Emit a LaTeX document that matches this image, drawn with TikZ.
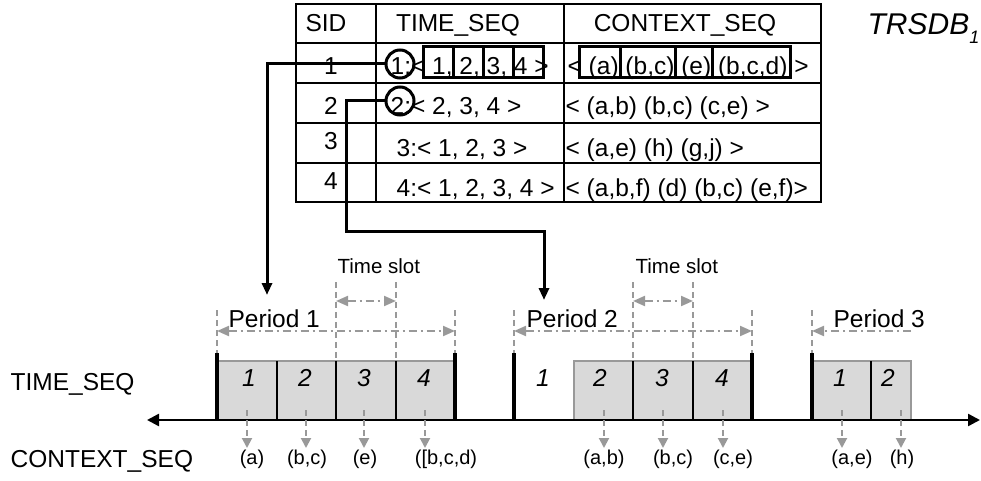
\documentclass[tikz,border=0pt]{standalone}
\usepackage{fontspec}
\setsansfont{Liberation Sans}
\usetikzlibrary{arrows.meta, calc}

\begin{document}
\begin{tikzpicture}[
  x=0.5pt, y=-0.5pt,
  font=\sffamily\fontsize{12.25}{14}\selectfont,
  line width=0.65pt,
  txt/.style={anchor=base, inner sep=0pt},
  lbl/.style={anchor=base, inner sep=0pt, font=\sffamily\fontsize{10}{12}\selectfont},
  conn/.style={line width=1.5pt, -{Triangle[length=6pt,width=5pt]}},
  gdash/.style={black!40, line width=1pt, dash pattern=on 3pt off 2pt},
  gdown/.style={gdash, -{Triangle[length=5pt,width=5pt]}},
  gspan/.style={black!40, line width=1pt, dash pattern=on 4pt off 2pt on 1pt off 2pt},
  pbar/.style={line width=2pt},
  slotbox/.style={black!40, line width=0.75pt}
]

\useasboundingbox (0,0) rectangle (981,481);

% ------------------- Table ------------------- %
\draw (296,4) rectangle (821,202);
\foreach \y in {43,83,123,163} {
  \draw (296,\y) -- (821,\y);
}
\foreach \x in {376,564} {
  \draw (\x,4) -- (\x,202);
}

% Header
\node[txt] (hsid) at (326,32) {SID};
\node[txt] (htime) at (458,32) {TIME\_SEQ};
\node[txt] (hctx) at (685,32) {CONTEXT\_SEQ};

% SID column
\foreach \i/\yb in {1/75,2/115,3/150,4/190} {
  \node[txt] (sid\i) at (331,\yb) {\i};
}

% TIME_SEQ and CONTEXT_SEQ columns
\node[txt, anchor=base west] (t1) at (390,75) {1:< 1, 2, 3, 4 >};
\node[txt, anchor=base west] (t2) at (390,115) {2:< 2, 3, 4 >};
\node[txt, anchor=base west] (t3) at (396,157) {3:< 1, 2, 3 >};
\node[txt, anchor=base west] (t4) at (396,197) {4:< 1, 2, 3, 4 >};
\node[txt, anchor=base west] (x1) at (567,75) {< (a) (b,c) (e) (b,c,d) >};
\node[txt, anchor=base west] (x2) at (565,115) {< (a,b) (b,c) (c,e) >};
\node[txt, anchor=base west] (x3) at (565,157) {< (a,e) (h) (g,j) >};
\node[txt, anchor=base west] (x4) at (565,197) {< (a,b,f) (d) (b,c) (e,f)>};

% Boxes round the items of sequence 1
\foreach \a/\b in {423/453,453/483,483/513,513/543} {
  \draw[line width=1.5pt] (\a,47) rectangle (\b,78);
}
\foreach \a/\b in {579/620,620/675,675/712,712/790} {
  \draw[line width=1.5pt] (\a,47) rectangle (\b,78);
}

% Circles round the SIDs
\node[circle, draw, line width=1.5pt, minimum size=14pt, inner sep=0pt] (c1) at (400,64) {};
\node[circle, draw, line width=1.5pt, minimum size=14pt, inner sep=0pt] (c2) at (400,101) {};

\node[txt, anchor=base west] (db) at (867,35)
  {\fontsize{15}{18}\selectfont\itshape TRSDB\raisebox{-0.3em}{\fontsize{9}{9}\selectfont 1}};

% ------------------- Time line ------------------- %
\node[txt, anchor=base west] (ltime) at (10,390) {TIME\_SEQ};
\node[txt, anchor=base west] (lctx) at (10,467) {CONTEXT\_SEQ};

% Period 1
\fill[black!15] (217,361) rectangle (455,420);
\draw[slotbox] (217,420) -- (217,361) -- (455,361) -- (455,420);
\foreach \x in {277,336,396} {
  \draw (\x,361) -- (\x,420);
}
\foreach \n/\x in {1/249,2/305,3/364,4/424} {
  \node[txt] (pa\n) at (\x,386) {\itshape\n};
}

% Period 2
\fill[black!15] (574,361) rectangle (752,420);
\draw[slotbox] (574,420) -- (574,361) -- (752,361) -- (752,420);
\foreach \x in {633,693} {
  \draw (\x,361) -- (\x,420);
}
\foreach \n/\x in {1/543,2/600,3/662,4/722} {
  \node[txt] (pb\n) at (\x,386) {\itshape\n};
}

% Period 3
\fill[black!15] (812,361) rectangle (911,420);
\draw[slotbox] (812,361) -- (911,361) -- (911,420);
\draw (871,361) -- (871,420);
\foreach \n/\x in {1/840,2/888} {
  \node[txt] (pc\n) at (\x,386) {\itshape\n};
}

% Axis
\coordinate (axl) at (147,420);
\coordinate (axr) at (980,420);
\draw[line width=1.25pt, {Triangle[length=6pt,width=6pt]}-{Triangle[length=6pt,width=6pt]}] (axl) -- (axr);

% Period bounds
\foreach \x in {217,455,514,752,812} {
  \draw[pbar] (\x,353) -- (\x,421);
  \draw[gdash] (\x,310) -- (\x,353);
}

% Time slots
\foreach \x in {336,396,633,693} {
  \draw[gdash] (\x,282) -- (\x,361);
}
\draw[gspan, {Triangle[length=6pt,width=5pt]}-{Triangle[length=6pt,width=5pt]}] (336,301) -- (396,301);
\draw[gspan, {Triangle[length=6pt,width=5pt]}-{Triangle[length=6pt,width=5pt]}] (633,301) -- (693,301);
\node[txt, anchor=base west, font=\sffamily\fontsize{10.25}{12}\selectfont] (ts1) at (337,273) {Time slot};
\node[txt, anchor=base west, font=\sffamily\fontsize{10.25}{12}\selectfont] (ts2) at (635,273) {Time slot};

% Periods
\draw[gspan, {Triangle[length=6pt,width=5pt]}-{Triangle[length=6pt,width=5pt]}] (217,331) -- (455,331);
\draw[gspan, {Triangle[length=6pt,width=5pt]}-{Triangle[length=6pt,width=5pt]}] (514,331) -- (752,331);
\draw[gspan, -{Triangle[length=6pt,width=5pt]}] (911,331) -- (812,331);
\node[txt, anchor=base west] (per1) at (228,327) {Period 1};
\node[txt, anchor=base west] (per2) at (526,327) {Period 2};
\node[txt, anchor=base west] (per3) at (833,327) {Period 3};

% Contexts
\foreach \x in {247,306,364,425,604,663,723,842,901} {
  \draw[gdown] (\x,410) -- (\x,448);
}
\foreach \t/\x [count=\k] in {(a)/252,(b{,}c)/307,(e)/365,([b{,}c{,}d)/446,(a{,}b)/604,(b{,}c)/673,(c{,}e)/733,(a{,}e)/852,(h)/902} {
  \node[lbl] (ctx\k) at (\x,464) {\t};
}

% ------------------- Links ------------------- %
\coordinate (p1in) at (267,295);
\coordinate (bend) at (346,232);
\coordinate (p2in) at (544,300);
\draw[conn] (c1.west) -| (p1in);
\draw[conn] (c2.west) -| (bend) -| (p2in);

\end{tikzpicture}
\end{document}
